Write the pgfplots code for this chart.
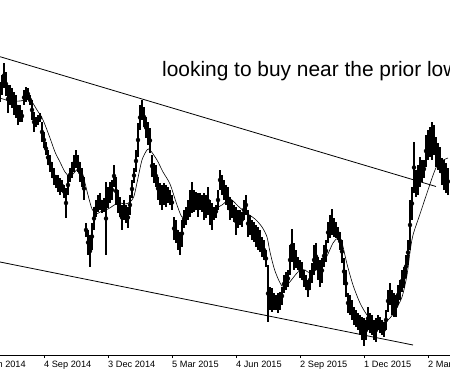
\documentclass[border=0pt]{standalone}
\usepackage{fontspec}
\setmainfont{Liberation Sans}
\usepackage{pgfplots}
\pgfplotsset{compat=1.18}
\usepackage{pgfplotstable}

% daily bars: x pixel, high (top pixel), low (bottom pixel)
\pgfplotstableread{
x h l
0 82 102
2 75 95
4 63 88
6 72 96
8 85 113
10 85 105
12 88 108
14 92 115
16 95 118
18 105 125
20 105 122
22 110 122
24 90 105
26 87 102
28 88 100
30 95 105
32 100 120
34 112 132
36 117 127
38 115 125
40 113 122
42 122 142
44 132 148
46 142 155
48 150 165
50 155 172
52 162 178
54 168 185
56 175 188
58 175 192
60 178 195
62 180 192
64 185 198
66 188 218
68 175 195
70 168 182
72 162 178
74 155 172
76 150 168
78 155 172
80 162 182
82 168 187
84 177 200
86 223 237
88 230 255
90 235 267
92 223 250
94 207 230
96 200 217
98 195 212
100 193 210
102 200 213
104 198 212
106 182 255
108 187 208
110 182 203
112 180 200
114 165 187
116 177 205
118 190 213
120 197 217
122 205 230
124 200 220
126 205 223
128 207 228
130 195 215
132 180 198
134 168 183
136 150 172
138 123 157
140 105 130
142 100 120
144 107 127
146 117 138
148 122 145
150 128 153
152 155 177
154 163 183
156 165 187
158 177 200
160 183 205
162 185 210
164 183 205
166 185 207
168 187 203
170 190 205
172 195 210
174 217 240
176 220 243
178 230 250
180 232 255
182 220 247
184 210 228
186 207 225
188 200 220
190 190 217
192 182 213
194 190 212
196 192 210
198 193 217
200 193 210
202 195 212
204 193 220
206 195 218
208 187 215
210 200 225
212 203 230
214 207 220
216 205 218
218 190 210
220 170 190
222 175 195
224 180 200
226 185 205
228 187 210
230 197 220
232 200 218
234 205 222
236 207 235
238 210 228
240 210 225
242 212 227
244 200 220
246 195 215
248 210 237
250 215 235
252 220 240
254 222 242
256 225 247
258 227 250
260 230 252
262 237 257
264 240 260
266 250 267
268 265 322
270 287 310
272 288 312
274 293 310
276 295 310
278 293 313
280 292 310
282 287 305
284 275 293
286 272 290
288 270 287
290 245 275
292 229 262
294 243 270
296 250 268
298 257 270
300 260 278
302 262 280
304 270 287
306 275 290
308 280 297
310 270 290
312 263 283
314 245 275
316 243 270
318 257 280
320 260 287
322 258 283
324 245 267
326 240 262
328 222 243
330 215 238
332 209 235
334 218 237
336 222 238
338 227 240
340 232 250
342 240 263
344 258 285
346 270 297
348 293 313
350 295 315
352 300 320
354 307 325
356 310 327
358 313 330
360 315 335
362 317 340
364 318 346
366 320 340
368 307 330
370 313 333
372 315 335
374 320 340
376 318 342
378 315 330
380 317 333
382 320 335
384 322 337
386 310 330
388 290 312
390 283 305
392 290 315
394 293 317
396 295 317
398 285 305
400 280 300
402 270 292
404 267 288
406 255 278
408 240 265
410 200 250
412 187 220
414 142 193
416 170 197
418 165 195
420 157 187
422 160 182
424 160 178
426 135 167
428 130 160
430 127 157
432 122 160
434 125 155
436 137 167
438 143 170
440 147 173
442 158 185
444 160 190
446 163 193
448 168 195
}\bars

\begin{document}
\begin{tikzpicture}
\useasboundingbox (0,-20bp) rectangle (450bp,355bp);
\clip (0,-20bp) rectangle (450bp,355bp);
\begin{axis}[
  scale only axis, width=450bp, height=355bp,
  xmin=0, xmax=450, ymin=-355, ymax=0,
  axis x line=bottom, axis y line=none,
  x axis line style={-, line width=0.8bp},
  xtick={44,108,172,236,300,364,428}, xticklabels={},
  tick align=outside, major tick length=3bp,
  tick style={black, line width=0.8bp},
  clip mode=individual,
]
% price bars
\addplot[black, only marks, mark=none,
  error bars/.cd, y dir=both, y explicit, error mark=none,
  error bar style={line width=1.6bp, black}]
  table[x=x, y expr={-(\thisrow{h}+\thisrow{l})/2}, y error expr={(\thisrow{l}-\thisrow{h})/2}] {\bars};
% moving average
\addplot[black, line width=0.6bp, smooth] coordinates {
(0,-98) (10,-101) (20,-101) (30,-100) (37,-110) (43,-120) (50,-138) (55,-152)
(60,-162) (65,-172) (70,-177) (73,-174) (78,-169) (82,-172) (85,-183) (88,-195)
(92,-209) (96,-214) (100,-212) (108,-209) (118,-203) (125,-204) (130,-202) (134,-196)
(138,-178) (142,-160) (147,-150) (150,-150) (157,-160) (163,-172) (170,-184) (177,-205)
(182,-217) (187,-215) (197,-209) (207,-208) (213,-209) (222,-205) (230,-199) (238,-206)
(245,-212) (255,-219) (262,-227) (267,-237) (270,-252) (275,-271) (282,-286) (288,-284)
(298,-272) (305,-270) (310,-273) (320,-267) (327,-256) (333,-243) (338,-238) (342,-243)
(347,-264) (353,-285) (360,-303) (367,-315) (373,-321) (380,-322) (385,-322) (390,-318)
(395,-311) (402,-297) (407,-275) (410,-252) (413,-235) (420,-214) (427,-193) (435,-170)
(440,-162) (448,-158)
};
% trend lines
\addplot[black, line width=0.8bp] coordinates {(0,-56.7) (436,-186.5)};
\addplot[black, line width=0.8bp] coordinates {(0,-262) (413,-345)};
% annotation
\node[anchor=base west, inner sep=0pt, font=\fontsize{20.9bp}{24bp}\selectfont]
  at (axis cs:162,-77) {looking to buy near the prior low};
% date labels
\foreach \xx/\lab in {-20/5 Jun 2014, 44/4 Sep 2014, 108/3 Dec 2014, 172/5 Mar 2015,
  236/4 Jun 2015, 300/2 Sep 2015, 364/1 Dec 2015, 428/2 Mar 2016} {
  \edef\tmp{\noexpand\node[anchor=base west, inner sep=0pt,
    font=\noexpand\fontsize{9.2bp}{11bp}\noexpand\selectfont]
    at (axis cs:\xx,-368) {\lab};}
  \tmp
}
\end{axis}
\end{tikzpicture}
\end{document}
